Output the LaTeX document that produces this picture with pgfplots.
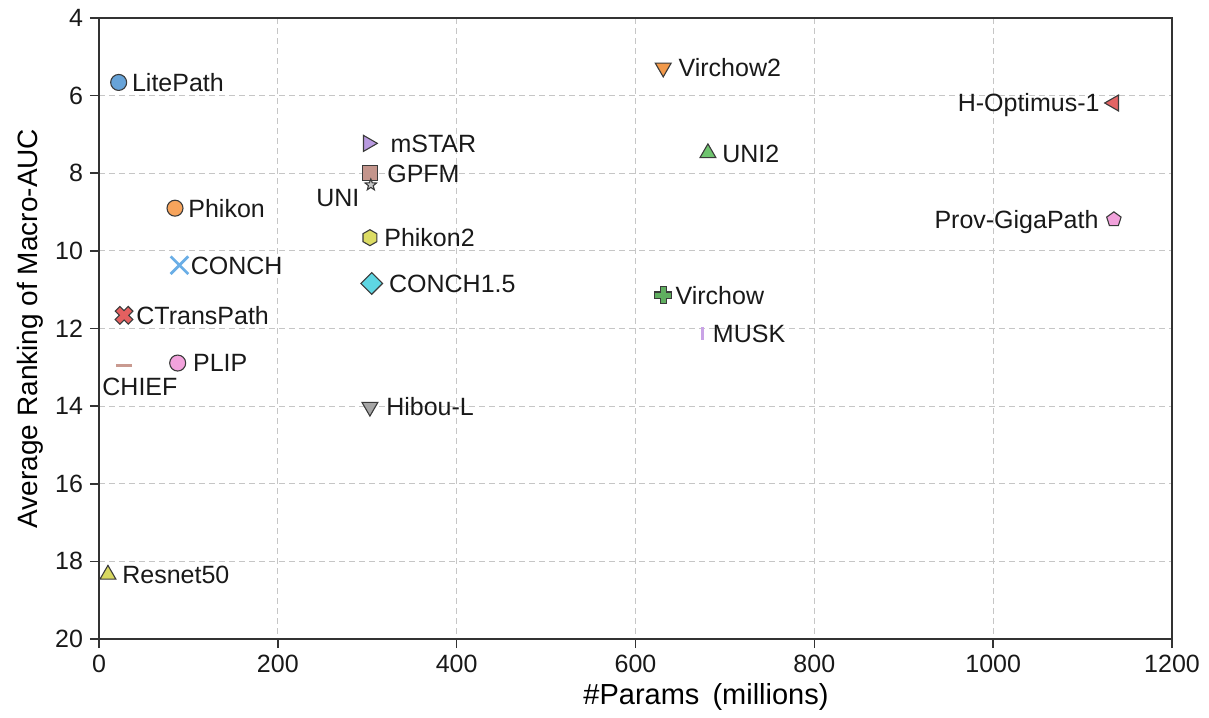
\documentclass[border=0pt]{standalone}
\usepackage{pgfplots}
\pgfplotsset{compat=1.18}
\usepackage{fontspec}
\setmainfont{Liberation Sans}

\definecolor{edgec}{HTML}{3A3A3A}
\definecolor{cLite}{HTML}{67A3D8}
\definecolor{cVir2}{HTML}{F2994A}
\definecolor{cHopt}{HTML}{E36464}
\definecolor{cmSTAR}{HTML}{B99AE0}
\definecolor{cGPFM}{HTML}{C4958C}
\definecolor{cUNI}{HTML}{C8C8C8}
\definecolor{cUNI2}{HTML}{6FC46F}
\definecolor{cPhik}{HTML}{F7A45C}
\definecolor{cPhik2}{HTML}{DCDC64}
\definecolor{cCONCH}{HTML}{6AAEE6}
\definecolor{cCONCHf}{HTML}{5ED6E3}
\definecolor{cVir}{HTML}{5FAE5F}
\definecolor{cMUSK}{HTML}{C9A3E6}
\definecolor{cCTP}{HTML}{E46060}
\definecolor{cCHIEF}{HTML}{C99A90}
\definecolor{cPLIP}{HTML}{F2A2DC}
\definecolor{cHibou}{HTML}{A6A6A6}
\definecolor{cProv}{HTML}{F2A2DC}
\definecolor{cRes}{HTML}{D8D860}

\newcommand{\fplusPath}{%
  \pgfpathmoveto{\pgfqpoint{-0.36\pgfplotmarksize}{\pgfplotmarksize}}%
  \pgfpathlineto{\pgfqpoint{0.36\pgfplotmarksize}{\pgfplotmarksize}}%
  \pgfpathlineto{\pgfqpoint{0.36\pgfplotmarksize}{0.36\pgfplotmarksize}}%
  \pgfpathlineto{\pgfqpoint{\pgfplotmarksize}{0.36\pgfplotmarksize}}%
  \pgfpathlineto{\pgfqpoint{\pgfplotmarksize}{-0.36\pgfplotmarksize}}%
  \pgfpathlineto{\pgfqpoint{0.36\pgfplotmarksize}{-0.36\pgfplotmarksize}}%
  \pgfpathlineto{\pgfqpoint{0.36\pgfplotmarksize}{-\pgfplotmarksize}}%
  \pgfpathlineto{\pgfqpoint{-0.36\pgfplotmarksize}{-\pgfplotmarksize}}%
  \pgfpathlineto{\pgfqpoint{-0.36\pgfplotmarksize}{-0.36\pgfplotmarksize}}%
  \pgfpathlineto{\pgfqpoint{-\pgfplotmarksize}{-0.36\pgfplotmarksize}}%
  \pgfpathlineto{\pgfqpoint{-\pgfplotmarksize}{0.36\pgfplotmarksize}}%
  \pgfpathlineto{\pgfqpoint{-0.36\pgfplotmarksize}{0.36\pgfplotmarksize}}%
  \pgfpathclose}
\pgfdeclareplotmark{fplus}{\fplusPath\pgfusepathqfillstroke}
\pgfdeclareplotmark{fX}{\pgftransformrotate{45}\fplusPath\pgfusepathqfillstroke}
\pgfdeclareplotmark{fhex}{%
  \pgfpathmoveto{\pgfpointpolar{90}{\pgfplotmarksize}}%
  \pgfpathlineto{\pgfpointpolar{150}{\pgfplotmarksize}}%
  \pgfpathlineto{\pgfpointpolar{210}{\pgfplotmarksize}}%
  \pgfpathlineto{\pgfpointpolar{270}{\pgfplotmarksize}}%
  \pgfpathlineto{\pgfpointpolar{330}{\pgfplotmarksize}}%
  \pgfpathlineto{\pgfpointpolar{30}{\pgfplotmarksize}}%
  \pgfpathclose\pgfusepathqfillstroke}
\pgfdeclareplotmark{fdiam}{%
  \pgfpathmoveto{\pgfqpoint{0pt}{\pgfplotmarksize}}%
  \pgfpathlineto{\pgfqpoint{\pgfplotmarksize}{0pt}}%
  \pgfpathlineto{\pgfqpoint{0pt}{-\pgfplotmarksize}}%
  \pgfpathlineto{\pgfqpoint{-\pgfplotmarksize}{0pt}}%
  \pgfpathclose\pgfusepathqfillstroke}
\pgfdeclareplotmark{fstar}{%
  \pgfpathmoveto{\pgfpointpolar{90}{\pgfplotmarksize}}%
  \pgfpathlineto{\pgfpointpolar{126}{0.42\pgfplotmarksize}}%
  \pgfpathlineto{\pgfpointpolar{162}{\pgfplotmarksize}}%
  \pgfpathlineto{\pgfpointpolar{198}{0.42\pgfplotmarksize}}%
  \pgfpathlineto{\pgfpointpolar{234}{\pgfplotmarksize}}%
  \pgfpathlineto{\pgfpointpolar{270}{0.42\pgfplotmarksize}}%
  \pgfpathlineto{\pgfpointpolar{306}{\pgfplotmarksize}}%
  \pgfpathlineto{\pgfpointpolar{342}{0.42\pgfplotmarksize}}%
  \pgfpathlineto{\pgfpointpolar{18}{\pgfplotmarksize}}%
  \pgfpathlineto{\pgfpointpolar{54}{0.42\pgfplotmarksize}}%
  \pgfpathclose\pgfusepathqfillstroke}

\begin{document}
\begin{tikzpicture}[
  lab/.style={font=\fontsize{12.5}{14}\selectfont, inner sep=0pt, text height=8.95pt, text depth=0pt, text=black!90},
  fm/.style={only marks, draw=edgec, line width=0.55pt}
]
\begin{axis}[
  name=ax,
  scale only axis,
  width=536.5pt, height=310.5pt,
  xmin=0, xmax=1200, ymin=4, ymax=20,
  y dir=reverse,
  xtick={0,200,...,1200},
  ytick={4,6,...,20},
  xtick pos=bottom, ytick pos=left,
  tick align=outside,
  major tick length=4.5pt,
  tick style={draw=black!80, line width=0.8pt},
  axis line style={draw=black!80, line width=1pt},
  grid=major,
  major grid style={dash pattern=on 3pt off 2pt, draw=gray!45, line width=0.5pt},
  /pgf/number format/assume math mode=true,
  /pgf/number format/1000 sep={},
  tick label style={font=\fontsize{12.5}{14}\selectfont, text=black!90},
  xlabel={\#Params\hspace{0.45em}(millions)},
  ylabel={Average Ranking of Macro-AUC},
  xlabel style={at={(axis description cs:0.5657,-0.0934)}, anchor=center, font=\fontsize{14.5}{16}\selectfont},
  ylabel style={at={(axis description cs:-0.0643,0.5)}, anchor=center, font=\fontsize{14}{16}\selectfont},
  clip=false,
]
% LitePath
\addplot[fm, mark=*, mark size=4pt, fill=cLite] coordinates {(22,5.66)};
% Virchow2
\addplot[fm, mark=triangle*, mark size=4.6pt, fill=cVir2, mark options={rotate=180}] coordinates {(631,5.28)};
% H-Optimus-1
\addplot[fm, mark=triangle*, mark size=4.6pt, fill=cHopt, mark options={rotate=90}] coordinates {(1135,6.19)};
% mSTAR
\addplot[fm, mark=triangle*, mark size=4.6pt, fill=cmSTAR, mark options={rotate=-90}] coordinates {(301,7.23)};
% GPFM
\addplot[fm, mark=square*, mark size=3.8pt, fill=cGPFM] coordinates {(303,8.0)};
% UNI
\addplot[fm, mark=fstar, mark size=3pt, fill=cUNI] coordinates {(304,8.3)};
% UNI2
\addplot[fm, mark=triangle*, mark size=4.6pt, fill=cUNI2] coordinates {(681,7.48)};
% Phikon
\addplot[fm, mark=*, mark size=4pt, fill=cPhik] coordinates {(85,8.9)};
% Phikon2
\addplot[fm, mark=fhex, mark size=4pt, fill=cPhik2] coordinates {(303,9.66)};
% CONCH
\addplot[only marks, mark=x, mark size=6.2pt, draw=cCONCH, line width=1.4pt] coordinates {(90,10.37)};
% CONCH1.5
\addplot[fm, mark=fdiam, mark size=5.4pt, fill=cCONCHf] coordinates {(305,10.84)};
% Virchow
\addplot[fm, mark=fplus, mark size=4.3pt, fill=cVir] coordinates {(631,11.14)};
% MUSK
\addplot[only marks, mark=|, mark size=3.2pt, draw=cMUSK, line width=1.2pt] coordinates {(675,12.12)};
% CTransPath
\addplot[fm, mark=fX, mark size=4.6pt, fill=cCTP] coordinates {(28,11.66)};
% CHIEF
\addplot[only marks, mark=-, mark size=4pt, draw=cCHIEF, line width=1.2pt] coordinates {(28,12.95)};
% PLIP
\addplot[fm, mark=*, mark size=4pt, fill=cPLIP] coordinates {(88,12.89)};
% Hibou-L
\addplot[fm, mark=triangle*, mark size=4.6pt, fill=cHibou, mark options={rotate=180}] coordinates {(303,14.02)};
% Prov-GigaPath
\addplot[fm, mark=pentagon*, mark size=3.8pt, fill=cProv] coordinates {(1135,9.19)};
% Resnet50
\addplot[fm, mark=triangle*, mark size=4.6pt, fill=cRes] coordinates {(10,18.34)};

% labels
\node[lab, anchor=west, xshift=6.5pt] at (axis cs:22,5.66) {LitePath};
\node[lab, anchor=west, xshift=7.5pt] at (axis cs:631,5.28) {Virchow2};
\node[lab, anchor=east, xshift=-7pt] at (axis cs:1135,6.19) {H-Optimus-1};
\node[lab, anchor=west, xshift=11pt] at (axis cs:301,7.23) {mSTAR};
\node[lab, anchor=west, xshift=8.5pt] at (axis cs:303,8.0) {GPFM};
\node[lab, anchor=east, xshift=-5.5pt, yshift=-6.5pt] at (axis cs:304,8.3) {UNI};
\node[lab, anchor=west, xshift=7pt] at (axis cs:681,7.48) {UNI2};
\node[lab, anchor=west, xshift=6.5pt] at (axis cs:85,8.9) {Phikon};
\node[lab, anchor=west, xshift=7pt] at (axis cs:303,9.66) {Phikon2};
\node[lab, anchor=west, xshift=5.5pt] at (axis cs:90,10.37) {CONCH};
\node[lab, anchor=west, xshift=8.5pt] at (axis cs:305,10.84) {CONCH1.5};
\node[lab, anchor=west, xshift=6pt] at (axis cs:631,11.14) {Virchow};
\node[lab, anchor=west, xshift=5pt] at (axis cs:675,12.12) {MUSK};
\node[lab, anchor=west, xshift=6pt] at (axis cs:28,11.66) {CTransPath};
\node[lab, anchor=west, xshift=-11pt, yshift=-10.5pt] at (axis cs:28,12.95) {CHIEF};
\node[lab, anchor=west, xshift=7.5pt] at (axis cs:88,12.89) {PLIP};
\node[lab, anchor=west, xshift=8pt] at (axis cs:303,14.02) {Hibou-L};
\node[lab, anchor=east, xshift=-7.5pt] at (axis cs:1135,9.19) {Prov-GigaPath};
\node[lab, anchor=west, xshift=7pt] at (axis cs:10,18.34) {Resnet50};
\end{axis}
\pgfresetboundingbox
\useasboundingbox ([xshift=-49.5pt,yshift=-39pt]ax.south west) rectangle ([xshift=18.5pt,yshift=9pt]ax.north east);
\end{tikzpicture}
\end{document}
